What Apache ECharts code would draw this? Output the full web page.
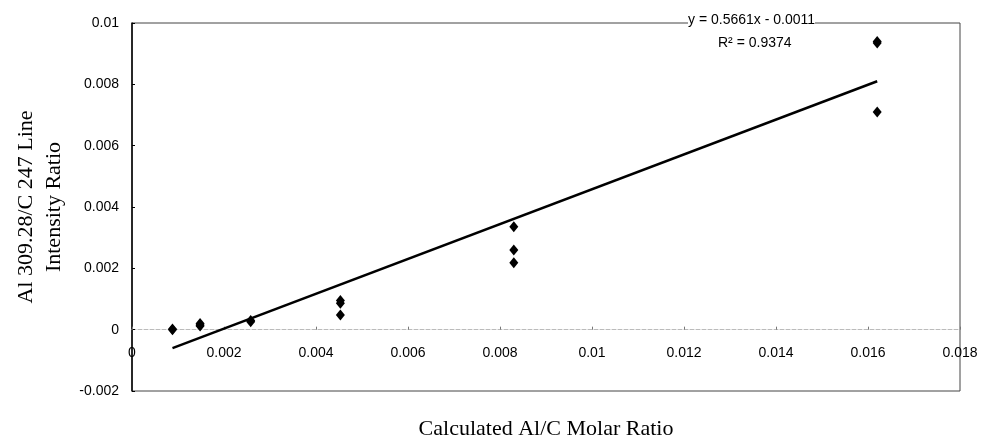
<!DOCTYPE html>
<html>
<head>
<meta charset="utf-8">
<script src="https://cdn.jsdelivr.net/npm/echarts@6/dist/echarts.min.js"></script>
<style>html,body{margin:0;padding:0;background:#fff}#c{width:984px;height:442px}</style>
</head>
<body>
<div id="c"></div>
<script>
// Measured data (Calculated Al/C molar ratio vs Al 309.28/C 247 line intensity ratio)
const molarRatio = [0.00088, 0.00088, 0.00148, 0.00148, 0.00148, 0.00258, 0.00258, 0.00453, 0.00453, 0.00453, 0.0083, 0.0083, 0.0083, 0.0162, 0.0162, 0.0162];
const intensityRatio = [0.0000, 0.00002, 0.0002, 0.00015, 0.00012, 0.0003, 0.00026, 0.00095, 0.00086, 0.00048, 0.00336, 0.0026, 0.00218, 0.0094, 0.00935, 0.0071];
// Linear trendline endpoints as drawn
const trendX = [0.00088, 0.0162];
const trendY = [-0.0006, 0.0081];
const xTicks = { min: 0, max: 0.018, step: 0.002 };
const yTicks = { min: -0.002, max: 0.01, step: 0.002 };
const eqText = 'y = 0.5661x - 0.0011';
const r2Text = 'R² = 0.9374';

const chart = echarts.init(document.getElementById('c'));
const fmt = v => String(+v.toFixed(4));
chart.setOption({
  backgroundColor: '#fff',
  animation: false,
  grid: { left: 132, top: 23, right: 24, bottom: 51, show: true, borderColor: '#444', borderWidth: 1, backgroundColor: 'transparent', containLabel: false, outerBoundsMode: 'none' },
  xAxis: {
    type: 'value', min: xTicks.min, max: xTicks.max, interval: xTicks.step,
    name: 'Calculated Al/C Molar Ratio', nameLocation: 'middle', nameGap: 27,
    nameTextStyle: { fontFamily: 'Liberation Serif', fontSize: 22, color: '#000' },
    axisLine: { onZero: true, lineStyle: { color: '#bbb', width: 1, type: 'dashed' } },
    axisTick: { show: true, inside: true, length: 3, lineStyle: { color: '#777' } },
    axisLabel: { formatter: fmt, margin: -45, fontFamily: 'Liberation Sans', fontSize: 14, color: '#000' },
    splitLine: { show: false }
  },
  yAxis: {
    type: 'value', min: yTicks.min, max: yTicks.max, interval: yTicks.step,
    name: 'Al 309.28/C 247 Line\nIntensity Ratio', nameLocation: 'middle', nameGap: 63, nameRotate: 90,
    nameTextStyle: { fontFamily: 'Liberation Serif', fontSize: 22, color: '#000', lineHeight: 28 },
    axisLine: { show: true, lineStyle: { color: '#000', width: 1.5 } },
    axisTick: { show: true, inside: true, length: 3, lineStyle: { color: '#000' } },
    axisLabel: { formatter: fmt, margin: 13, fontFamily: 'Liberation Sans', fontSize: 14, color: '#000' },
    splitLine: { show: false }
  },
  series: [
    {
      type: 'scatter', symbol: 'diamond', symbolSize: [9, 11],
      itemStyle: { color: '#000', opacity: 1 },
      data: molarRatio.map((x, i) => [x, intensityRatio[i]])
    },
    {
      type: 'line', symbol: 'none',
      lineStyle: { color: '#000', width: 2.5 },
      data: trendX.map((x, i) => [x, trendY[i]])
    }
  ],
  graphic: [
    { type: 'text', left: 688, top: 13, style: { text: eqText, font: '14px "Liberation Sans"', fill: '#000', backgroundColor: '#fff' } },
    { type: 'text', left: 718, top: 36, style: { text: r2Text, font: '14px "Liberation Sans"', fill: '#000' } }
  ]
});
</script>
</body>
</html>
